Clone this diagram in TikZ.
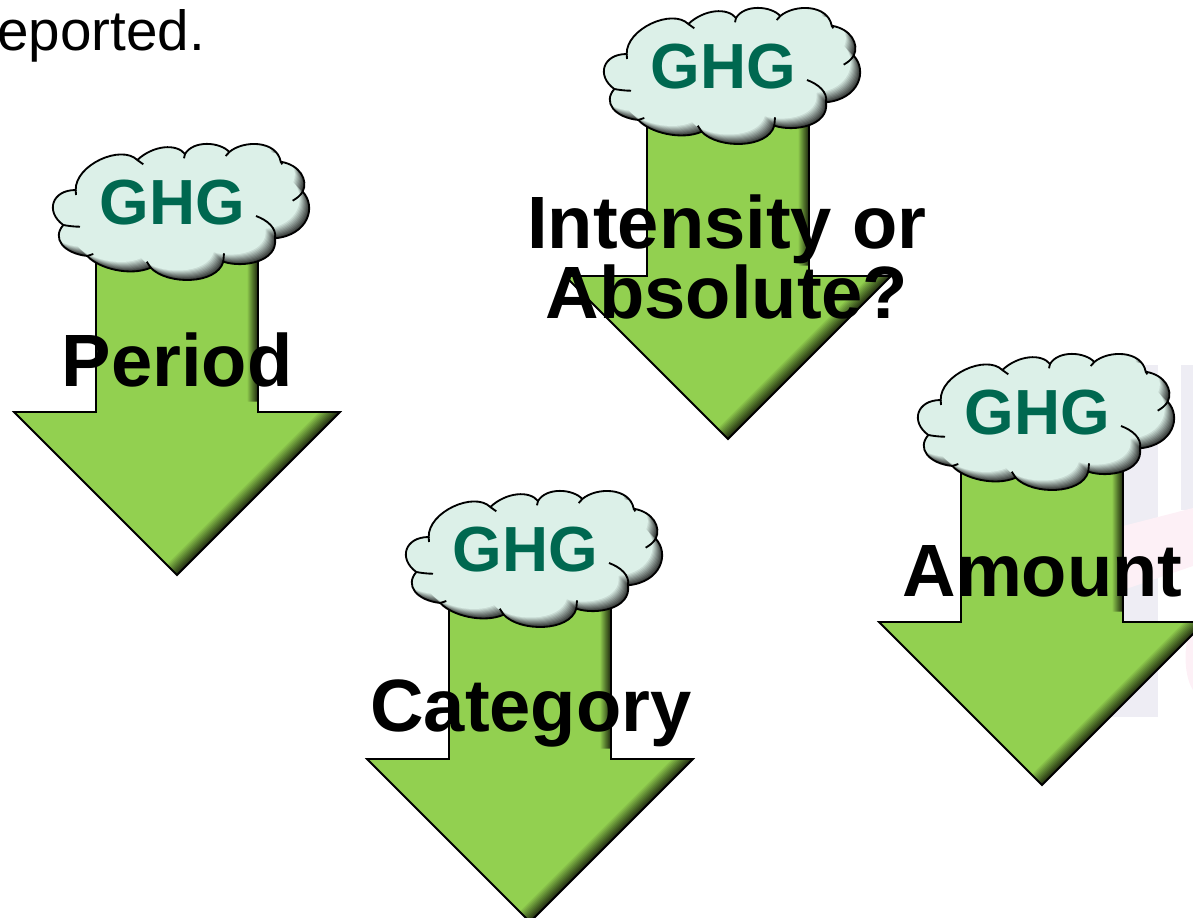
\documentclass[tikz,border=0pt]{standalone}
\usepackage{fontspec}
\setmainfont{Liberation Sans}
\definecolor{arrowgreen}{HTML}{92D050}
\definecolor{arrowdark}{HTML}{1F2A10}
\definecolor{cloudmint}{HTML}{DCF0E8}
\definecolor{clouddark}{HTML}{2A2C2B}
\definecolor{ghggreen}{HTML}{006850}
\definecolor{backlav}{HTML}{EEEDF4}
\definecolor{backpink}{HTML}{FDF0F6}
\newcommand{\arrowpath}{(-81,-325) -- (81,-325) -- (81,-163) -- (163,-163) -- (0,0) -- (-163,-163) -- (-81,-163) -- cycle}
\newcommand{\cloudpath}{(-101.3,-20) .. controls (-102,-45) and (-56,-66) .. (-39.7,-50)
 .. controls (-23.7,-65) and (-0.3,-66.7) .. (8,-56)
 .. controls (16.3,-70) and (43,-68.3) .. (52.3,-58)
 .. controls (66.3,-70) and (99.7,-70) .. (103.7,-48.3)
 .. controls (123,-45) and (131.3,-30) .. (125.7,-18.3)
 .. controls (139.7,-3.3) and (131.3,25) .. (98,28.3)
 .. controls (101.3,51.7) and (66.3,58.3) .. (46.3,51.7)
 .. controls (39.7,75) and (-10.3,75) .. (-26.3,57.7)
 .. controls (-47,66.7) and (-78.7,58.3) .. (-89.7,46)
 .. controls (-113.7,43.3) and (-125.3,28.3) .. (-113.7,15)
 .. controls (-132,1.7) and (-125.3,-20) .. (-101.3,-20) -- cycle}
\begin{document}
\begin{tikzpicture}[x=0.02cm,y=-0.02cm,
outline/.style={draw=black,line width=1.05pt,line join=miter},
tick/.style={draw=black,line width=1.05pt},
ghgtext/.style={text=ghggreen,font=\bfseries\fontsize{36.3}{40}\selectfont,inner sep=0pt,anchor=base},
biglabel/.style={text=black,font=\bfseries\fontsize{42.2}{38.5}\selectfont,inner sep=0pt,align=center}]
\clip[use as bounding box] (0,0) rectangle (1193,917);
% faint slide background
\fill[backlav] (1100,365) rectangle (1158,717);
\fill[backlav] (1181,365) rectangle (1193,510);
\fill[backpink] (1123,526) -- (1193,508) -- (1193,566) -- (1123,590) -- cycle;
\fill[backpink] (1193,625) .. controls (1183,640) and (1183,675) .. (1193,690) -- cycle;
\node (reported) at (-3,50) [anchor=base west,inner sep=0pt,font=\fontsize{32.2}{36}\selectfont] {eported.};
\foreach \tipx/\tipy/\nm in {177/575/period,728/439/intensity,1042/785/amount,530/922/category} {
  \begin{scope}[shift={(\tipx,\tipy)}]
    % arrow with its inner shadow
    \begin{scope}
      \clip \arrowpath;
      \fill[arrowdark] \arrowpath;
      \foreach \d in {0.5,1.5,...,10.5} {
        \pgfmathsetmacro{\fadeop}{1/(11.5-\d)}
        \fill[arrowgreen,opacity=\fadeop,shift={(-\d,-\d)}] \arrowpath;
      }
    \end{scope}
    \draw[outline] \arrowpath;
    % cloud on top of the shaft
    \begin{scope}[shift={(0,-365)}]
      \begin{scope}
        \clip \cloudpath;
        \fill[clouddark] \cloudpath;
        \foreach \d in {0.5,1.5,...,9.5} {
          \pgfmathsetmacro{\fadeop}{1/(10.5-\d)}
          \fill[cloudmint,opacity=\fadeop,shift={(-\d,-\d)}] \cloudpath;
        }
      \end{scope}
      \draw[outline] \cloudpath;
      \draw[tick] (-39.7,-50) -- (-33.7,-45.7);
      \draw[tick] (8,-56) -- (7,-51.7);
      \draw[tick] (52.3,-58) -- (48.7,-54);
      \draw[tick] (103.7,-48.3) -- (105.3,-45.7);
      \draw[tick] (125.7,-18.3) .. controls (123,-14) and (120,-12) .. (115.7,-9.3);
      \draw[tick] (79,6) .. controls (90,10) and (100,18) .. (98,28.3);
      \draw[tick] (46.3,51.7) -- (47,43.3);
      \draw[tick] (-26.3,57.7) -- (-30.3,51.7);
      \draw[tick] (-89.7,46) -- (-83.7,44);
      \draw[tick] (-113.7,15) .. controls (-108,16) and (-103,16.7) .. (-97,16.7);
      \draw[tick] (-101.3,-20) -- (-101,-15);
      \node (ghg\nm) at (-4.5,14) [ghgtext] {GHG};
    \end{scope}
  \end{scope}
}
\node (period) at (177,386) [biglabel,anchor=base] {Period};
\node (intensity) at (727,257) [biglabel] {Intensity or\\Absolute?};
\node (amount) at (1042.5,596) [biglabel,anchor=base] {Amount};
\node (category) at (531,731) [biglabel,anchor=base] {Category};
\end{tikzpicture}
\end{document}
